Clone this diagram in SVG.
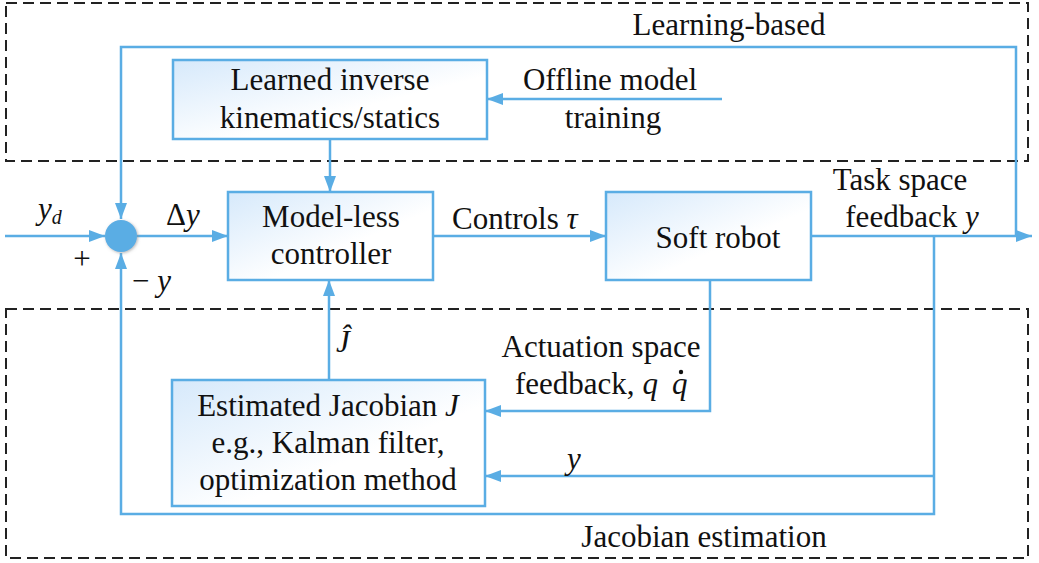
<svg xmlns="http://www.w3.org/2000/svg" width="1039" height="563" viewBox="0 0 1039 563" font-family="Liberation Serif, Times New Roman, DejaVu Serif, serif" font-size="31">
<defs>
<linearGradient id="bg" x1="0" y1="0" x2="1" y2="1">
<stop offset="0" stop-color="#d6e9fb"/>
<stop offset="0.6" stop-color="#ffffff"/>
</linearGradient>
<marker id="ar" markerUnits="userSpaceOnUse" markerWidth="16" markerHeight="12" refX="16" refY="6" orient="auto">
<path d="M0,0 L16,6 L0,12 z" fill="#5aade4"/>
</marker>
<filter id="sh" x="-50%" y="-50%" width="200%" height="200%">
<feGaussianBlur in="SourceAlpha" stdDeviation="1.5"/>
<feOffset dx="1" dy="1" result="b"/>
<feFlood flood-color="#888" flood-opacity="0.6"/>
<feComposite in2="b" operator="in"/>
<feMerge><feMergeNode/><feMergeNode in="SourceGraphic"/></feMerge>
</filter>
</defs>
<style>
.box{fill:url(#bg);stroke:#5aade4;stroke-width:2.5}
.ln{fill:none;stroke:#5aade4;stroke-width:2.5}
.dash{fill:none;stroke:#222;stroke-width:2;stroke-dasharray:11,6}
text{fill:#111}
.c{text-anchor:middle}
.i{font-style:italic}
</style>
<g id="regions">
<rect class="dash" x="6" y="3" width="1022" height="158"/>
<rect class="dash" x="6" y="309" width="1022" height="249"/>
<text class="c" x="729" y="35">Learning-based</text>
<text class="c" x="704" y="547">Jacobian estimation</text>
</g>
<g id="connectors">
<path class="ln" d="M5,236 H105" marker-end="url(#ar)"/>
<path class="ln" d="M137,236 H228" marker-end="url(#ar)"/>
<path class="ln" d="M433,236 H606" marker-end="url(#ar)"/>
<path class="ln" d="M811,236 H1032" marker-end="url(#ar)"/>
<path class="ln" d="M1016,236 V47 H121 V219" marker-end="url(#ar)"/>
<path class="ln" d="M330,139 V192" marker-end="url(#ar)"/>
<path class="ln" d="M722,99 H487" marker-end="url(#ar)"/>
<path class="ln" d="M329,380 V280" marker-end="url(#ar)"/>
<path class="ln" d="M710,280 V411 H485" marker-end="url(#ar)"/>
<path class="ln" d="M934,236 V514 H121 V253" marker-end="url(#ar)"/>
<path class="ln" d="M934,476 H485" marker-end="url(#ar)"/>
</g>
<g id="labels">
<text class="i" x="38" y="219">y<tspan font-size="20" dy="5">d</tspan></text>
<text class="c" x="82" y="269">+</text>
<text x="132" y="291">− <tspan class="i">y</tspan></text>
<text x="166" y="225">Δ<tspan class="i">y</tspan></text>
<text x="452" y="229">Controls <tspan class="i">τ</tspan></text>
<text class="c" x="900" y="190">Task space</text>
<text class="c" x="912" y="227">feedback <tspan class="i">y</tspan></text>
<text class="c" x="601" y="357">Actuation space</text>
<text x="515" y="394">feedback, <tspan class="i">q</tspan></text>
<text class="i" x="672" y="394">q</text>
<circle cx="681" cy="372" r="2.2" fill="#111"/>
<text class="i" x="567" y="469">y</text>
<text class="i" x="336" y="352">Ĵ</text>
</g>
<g id="sum">
<circle cx="121" cy="236" r="16" fill="#5aade4" filter="url(#sh)"/>
</g>
<g id="learned">
<rect class="box" x="173" y="60" width="314" height="79"/>
<text class="c" x="330" y="90">Learned inverse</text>
<text class="c" x="330" y="128">kinematics/statics</text>
</g>
<g id="offline">
<text class="c" x="610" y="90">Offline model</text>
<text class="c" x="613" y="128">training</text>
</g>
<g id="controller">
<rect class="box" x="228" y="192" width="205" height="88"/>
<text class="c" x="331" y="227">Model-less</text>
<text class="c" x="331" y="264">controller</text>
</g>
<g id="robot">
<rect class="box" x="606" y="192" width="205" height="88"/>
<text class="c" x="718" y="248">Soft robot</text>
</g>
<g id="estimator">
<rect class="box" x="172" y="380" width="313" height="126"/>
<text class="c" x="328" y="416">Estimated Jacobian <tspan class="i">J</tspan></text>
<text class="c" x="328" y="453">e.g., Kalman filter,</text>
<text class="c" x="328" y="490">optimization method</text>
</g>
</svg>
